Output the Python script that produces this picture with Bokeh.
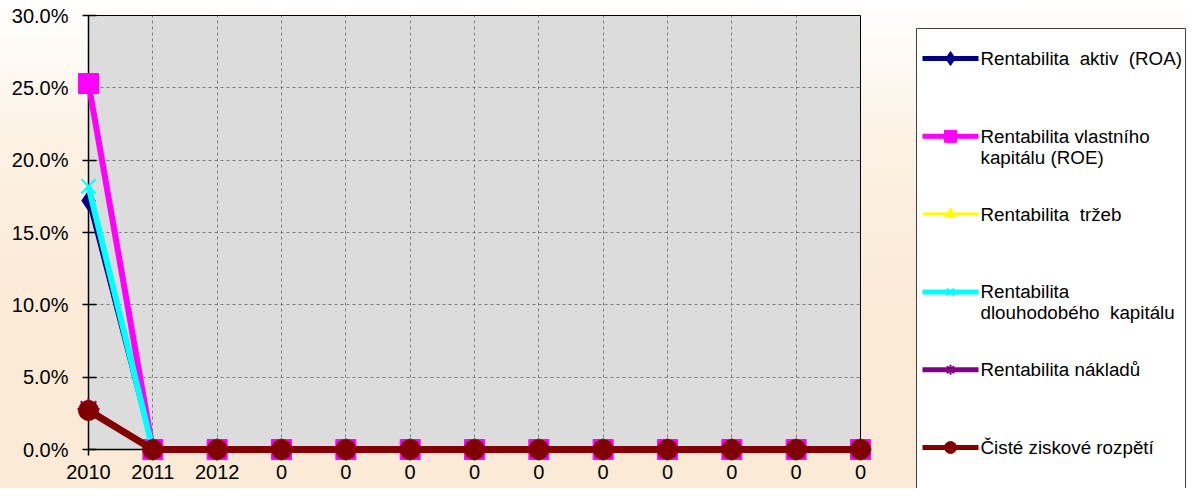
from bokeh.plotting import figure
from bokeh.layouts import row
from bokeh.models import Range1d, FixedTicker, NumeralTickFormatter
from bokeh.core.properties import value
from bokeh.embed import file_html
from bokeh.resources import INLINE

# ---- data ----
periods = ["2010", "2011", "2012", "0", "0", "0", "0", "0", "0", "0", "0", "0", "0"]
roa = [0.172, 0.0, 0.0, 0.0, 0.0, 0.0, 0.0, 0.0, 0.0, 0.0, 0.0, 0.0, 0.0]
roe = [0.253, 0.0, 0.0, 0.0, 0.0, 0.0, 0.0, 0.0, 0.0, 0.0, 0.0, 0.0, 0.0]
trzeb = [0.027, 0.0, 0.0, 0.0, 0.0, 0.0, 0.0, 0.0, 0.0, 0.0, 0.0, 0.0, 0.0]
dlouhodobeho = [0.182, 0.0, 0.0, 0.0, 0.0, 0.0, 0.0, 0.0, 0.0, 0.0, 0.0, 0.0, 0.0]
nakladu = [0.028, 0.0, 0.0, 0.0, 0.0, 0.0, 0.0, 0.0, 0.0, 0.0, 0.0, 0.0, 0.0]
ciste = [0.027, 0.0, 0.0, 0.0, 0.0, 0.0, 0.0, 0.0, 0.0, 0.0, 0.0, 0.0, 0.0]
y_ticks = [0.0, 0.05, 0.10, 0.15, 0.20, 0.25, 0.30]

NB = "\u00a0"
labels = [
    "Rentabilita" + NB + " aktiv" + NB + " (ROA)",
    "Rentabilita vlastního\nkapitálu (ROE)",
    "Rentabilita" + NB + " tržeb",
    "Rentabilita\ndlouhodobého" + NB + " kapitálu",
    "Rentabilita nákladů",
    "Čisté ziskové rozpětí",
]

FONT = "Liberation Sans"
BG = {"background": "linear-gradient(to bottom, #FFFFFF 0%, #FCF1E3 30%, #FBEAD6 65%, #FBEAD6 100%)"}
x = list(range(len(periods)))

H = 488
BOTTOM = 39
p = figure(width=876, height=H, output_backend="svg", toolbar_location=None,
           x_range=Range1d(0, len(periods) - 1), y_range=Range1d(0, 0.30),
           min_border_left=88, min_border_right=16, min_border_top=15, min_border_bottom=BOTTOM)
p.border_fill_alpha = 0
p.styles = BG
p.background_fill_color = "#DCDCDC"
p.outline_line_color = "#000000"
p.outline_line_width = 1

# axes
p.xaxis.ticker = FixedTicker(ticks=x)
p.xaxis.major_label_overrides = {i: s for i, s in zip(x, periods)}
p.yaxis.ticker = FixedTicker(ticks=y_ticks)
p.yaxis.formatter = NumeralTickFormatter(format="0.0%")
for ax in (p.xaxis, p.yaxis):
    ax.axis_line_color = "#000000"
    ax.axis_line_width = 1.5
    ax.major_tick_line_color = "#000000"
    ax.major_tick_line_width = 1.5
    ax.minor_tick_line_color = None
    ax.major_label_text_font = FONT
    ax.major_label_text_font_size = "20px"
    ax.major_label_text_color = "#000000"
p.yaxis.major_tick_in = 8
p.yaxis.major_tick_out = 6
p.yaxis.major_label_standoff = 14
p.xaxis.major_tick_in = 0
p.xaxis.major_tick_out = 6
p.xaxis.major_label_standoff = 9

for g in (p.xgrid, p.ygrid):
    g.grid_line_color = "#7F7F7F"
    g.grid_line_dash = "3 3"
    g.grid_line_width = 1

series = [
    (roa, "#000080", 4, "diamond", 20),
    (roe, "#FF00FF", 6, "square", 20),
    (trzeb, "#FFFF00", 3, "triangle", 14),
    (dlouhodobeho, "#00FFFF", 6, "x", 20),
    (nakladu, "#800080", 5, "asterisk", 22),
    (ciste, "#800000", 7, "circle", 20),
]

for vals, col, lw, mk, sz in series:
    p.line(x, vals, line_color=col, line_width=lw, level="overlay")
    p.scatter(x, vals, marker=mk, size=sz, fill_color=col, line_color=col,
              line_width=2 if mk in ("x", "asterisk") else 1, level="overlay")

# ---- legend panel: a second figure whose ranges are in pixels ----
LW = 310
lf = figure(width=LW, height=H, output_backend="svg", toolbar_location=None,
            x_axis_location=None, y_axis_location=None,
            x_range=Range1d(0, LW), y_range=Range1d(H - BOTTOM, 15),
            min_border_left=0, min_border_right=0, min_border_top=15, min_border_bottom=BOTTOM)
lf.border_fill_alpha = 0
lf.background_fill_alpha = 0
lf.outline_line_color = None
lf.xgrid.visible = False
lf.ygrid.visible = False
lf.styles = BG

box_left, box_top, box_w = 40, 28, 269
first_y, pitch, line_gap = 58, 77.8, 21
gx0, gx1 = box_left + 6, box_left + 62

lf.quad(left=[box_left], right=[box_left + box_w], top=[box_top], bottom=[H + 40],
        fill_color="#FFFFFF", line_color="#404040", line_width=1, level="overlay")

legend_marker_sizes = {"diamond": 14, "square": 12, "triangle": 11, "x": 10, "asterisk": 10, "circle": 12}
tx, ty, tt = [], [], []
for i, ((vals, col, lw, mk, sz), lab) in enumerate(zip(series, labels)):
    yc = first_y + pitch * i
    lf.segment(x0=[gx0], y0=[yc], x1=[gx1], y1=[yc], line_color=col,
               line_width=3 if col == "#FFFF00" else 5, level="overlay")
    lf.scatter(x=[(gx0 + gx1) / 2], y=[yc], marker=mk, size=legend_marker_sizes[mk],
               fill_color=col, line_color=col, line_width=2 if mk in ("x", "asterisk") else 1,
               level="overlay")
    for j, part in enumerate(lab.split("\n")):
        tx.append(gx1 + 2)
        ty.append(yc + line_gap * j)
        tt.append(part)

lf.text(x=tx, y=ty, text=tt, text_font=value(FONT), text_font_size=value("18.8px"),
        text_color="#000000", text_baseline="middle", text_align="left", level="overlay")

layout = row(p, lf, spacing=0)
open("out.html", "w").write(file_html(layout, INLINE))
